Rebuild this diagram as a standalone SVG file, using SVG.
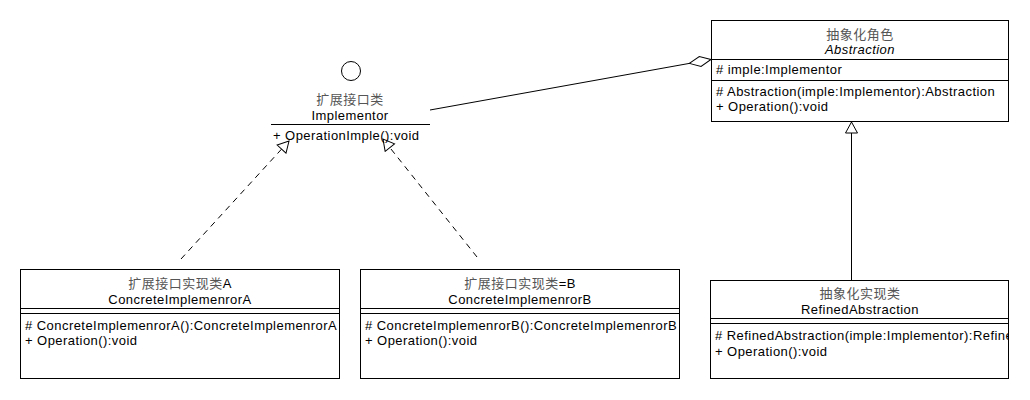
<svg xmlns="http://www.w3.org/2000/svg" width="1030" height="400" viewBox="0 0 1030 400">
<style>
.box{fill:#fff;stroke:#000;stroke-width:1}
.sep{stroke:#000;stroke-width:1;fill:none}
.t{font-family:"Liberation Sans",Arial,sans-serif;font-size:13px;letter-spacing:0.45px;fill:#000}
.c{text-anchor:middle}
.cjk{font-family:"Noto Sans CJK SC","Liberation Sans",sans-serif;font-size:13px;letter-spacing:0.5px;fill:#555}
.it{font-style:italic}
.conn{stroke:#000;stroke-width:1;fill:none}
.dash{stroke-dasharray:6,5}
</style>
<defs>
<marker id="tri" markerUnits="userSpaceOnUse" markerWidth="14" markerHeight="14" refX="12" refY="7" orient="auto" viewBox="0 0 14 14">
<path d="M1,1 L12,7 L1,13 z" fill="#fff" stroke="#000" stroke-width="1"/>
</marker>
<marker id="dia" markerUnits="userSpaceOnUse" markerWidth="25" markerHeight="12" refX="23" refY="6" orient="auto" viewBox="0 0 25 12">
<path d="M1,6 L12,1 L23,6 L12,11 z" fill="#fff" stroke="#000" stroke-width="1"/>
</marker>
<clipPath id="clipA"><rect x="21" y="270" width="318" height="108"/></clipPath>
<clipPath id="clipB"><rect x="361" y="270" width="318" height="108"/></clipPath>
<clipPath id="clipR"><rect x="711" y="281" width="297" height="97"/></clipPath>
</defs>
<g id="connectors">
<line class="conn" x1="430" y1="110" x2="711" y2="59.5" marker-end="url(#dia)"/>
<line class="conn dash" x1="181" y1="259" x2="289" y2="141" marker-end="url(#tri)"/>
<line class="conn dash" x1="477" y1="257" x2="383" y2="139" marker-end="url(#tri)"/>
<line class="conn" x1="851.5" y1="280" x2="851.5" y2="122" marker-end="url(#tri)"/>
</g>
<g id="implementor">
<circle cx="351" cy="71" r="9.5" fill="#fff" stroke="#000" stroke-width="1"/>
<text class="cjk c" x="350" y="104">扩展接口类</text>
<text class="t c" x="350" y="120">Implementor</text>
<line class="sep" x1="271" y1="124.5" x2="430" y2="124.5"/>
<text class="t" x="273" y="140">+ OperationImple():void</text>
</g>
<g id="abstraction">
<rect class="box" x="711.5" y="20.5" width="297" height="101"/>
<text class="cjk c" x="860" y="39">抽象化角色</text>
<text class="t c it" x="860" y="54">Abstraction</text>
<line class="sep" x1="711.5" y1="59.5" x2="1008.5" y2="59.5"/>
<text class="t" x="716" y="74"># imple:Implementor</text>
<line class="sep" x1="711.5" y1="80.5" x2="1008.5" y2="80.5"/>
<text class="t" x="716" y="96"># Abstraction(imple:Implementor):Abstraction</text>
<text class="t" x="716" y="111">+ Operation():void</text>
</g>
<g id="concreteA">
<rect class="box" x="20.5" y="269.5" width="319" height="109"/>
<text class="cjk c" x="180" y="288">扩展接口实现类<tspan class="t">A</tspan></text>
<text class="t c" x="180" y="304">ConcreteImplemenrorA</text>
<line class="sep" x1="20.5" y1="308.5" x2="339.5" y2="308.5"/>
<line class="sep" x1="20.5" y1="313.5" x2="339.5" y2="313.5"/>
<g clip-path="url(#clipA)">
<text class="t" x="25" y="330"># ConcreteImplemenrorA():ConcreteImplemenrorA</text>
<text class="t" x="25" y="345">+ Operation():void</text>
</g>
</g>
<g id="concreteB">
<rect class="box" x="360.5" y="269.5" width="319" height="109"/>
<text class="cjk c" x="520" y="288">扩展接口实现类<tspan class="t">=B</tspan></text>
<text class="t c" x="520" y="304">ConcreteImplemenrorB</text>
<line class="sep" x1="360.5" y1="308.5" x2="679.5" y2="308.5"/>
<line class="sep" x1="360.5" y1="313.5" x2="679.5" y2="313.5"/>
<g clip-path="url(#clipB)">
<text class="t" x="365" y="330"># ConcreteImplemenrorB():ConcreteImplemenrorB</text>
<text class="t" x="365" y="345">+ Operation():void</text>
</g>
</g>
<g id="refined">
<rect class="box" x="710.5" y="280.5" width="298" height="98"/>
<text class="cjk c" x="860" y="298">抽象化实现类</text>
<text class="t c" x="860" y="314">RefinedAbstraction</text>
<line class="sep" x1="710.5" y1="318.5" x2="1008.5" y2="318.5"/>
<line class="sep" x1="710.5" y1="323.5" x2="1008.5" y2="323.5"/>
<g clip-path="url(#clipR)">
<text class="t" x="715" y="340"># RefinedAbstraction(imple:Implementor):RefinedAbstraction</text>
<text class="t" x="715" y="356">+ Operation():void</text>
</g>
</g>
</svg>
